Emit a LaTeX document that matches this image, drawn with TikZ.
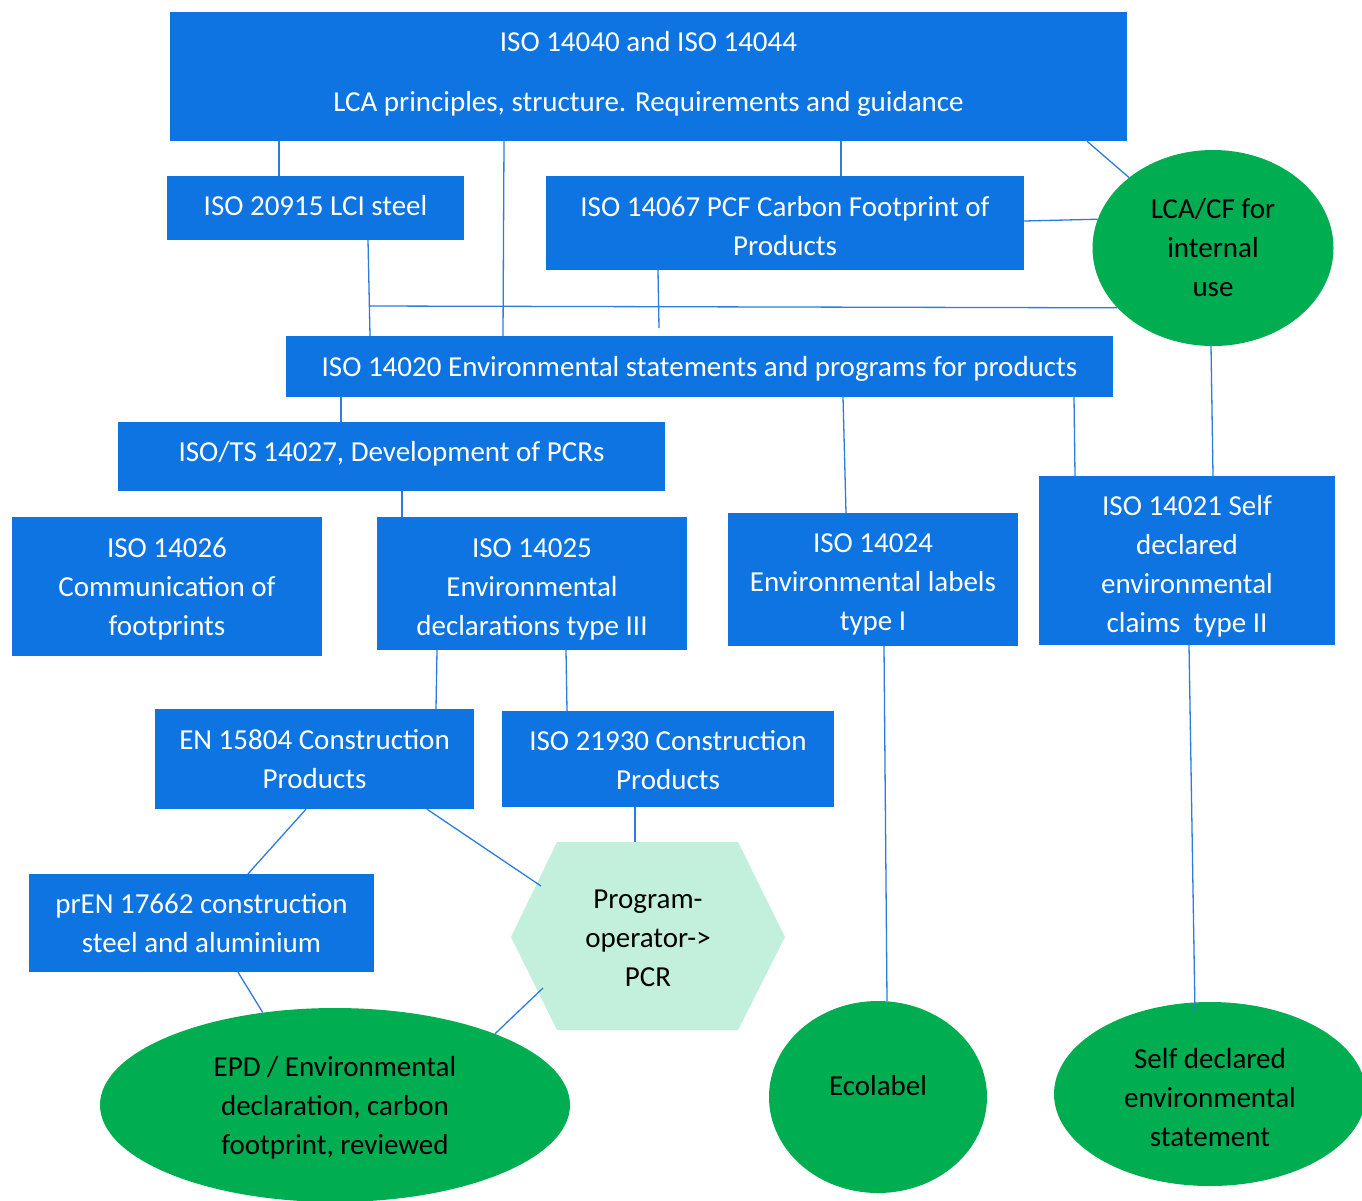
\documentclass[tikz,border=0pt]{standalone}
\usepackage{fontspec}
\setmainfont{Carlito}
\usetikzlibrary{shapes.geometric}
\definecolor{boxblue}{RGB}{14,116,226}
\definecolor{ovalgreen}{RGB}{0,173,80}
\definecolor{mint}{RGB}{195,240,221}
\definecolor{lineblue}{RGB}{46,124,220}
\begin{document}
\begin{tikzpicture}[x=1pt,y=-1pt,
 every node/.style={font=\fontsize{29}{39}\selectfont, inner sep=0pt, align=center},
 bluebox/.style={rectangle, fill=boxblue},
 greenoval/.style={ellipse, fill=ovalgreen},
 wlbl/.style={text=white},
 blbl/.style={text=black},
 conn/.style={draw=lineblue, line width=1.3pt}]
\useasboundingbox (0,0) rectangle (1362,1200);
\fill[white] (0,0) rectangle (1362,1200);

% boxes
\node[bluebox, minimum width=957pt, minimum height=129pt] (top) at (648.5,76.5) {};
\node[bluebox, minimum width=297pt, minimum height=64pt] (b20915) at (315.5,208) {};
\node[bluebox, minimum width=478pt, minimum height=94pt] (b14067) at (785,223) {};
\node[greenoval, minimum width=241pt, minimum height=196pt] (lca) at (1213,248) {};
\node[bluebox, minimum width=827pt, minimum height=61pt] (b14020) at (699.5,366.5) {};
\node[bluebox, minimum width=547pt, minimum height=69pt] (b14027) at (391.5,456.5) {};
\node[bluebox, minimum width=310pt, minimum height=139pt] (b14026) at (167,586.5) {};
\node[bluebox, minimum width=310pt, minimum height=133pt] (b14025) at (532,583.5) {};
\node[bluebox, minimum width=290pt, minimum height=133pt] (b14024) at (873,579.5) {};
\node[bluebox, minimum width=296pt, minimum height=169pt] (b14021) at (1187,560.5) {};
\node[bluebox, minimum width=319pt, minimum height=100pt] (en15804) at (314.5,759) {};
\node[bluebox, minimum width=332pt, minimum height=96pt] (iso21930) at (668,759) {};
\node[bluebox, minimum width=345pt, minimum height=98pt] (pren) at (201.5,923) {};
\fill[mint] (557,842) -- (738,842) -- (785,937) -- (738,1030) -- (557,1030) -- (511,937) -- cycle;
\node[greenoval, minimum width=470pt, minimum height=194pt] (epd) at (335,1105) {};
\node[greenoval, minimum width=218pt, minimum height=192pt] (eco) at (878,1097) {};
\node[greenoval, minimum width=312pt, minimum height=184pt] (selfd) at (1210,1094) {};

% texts
\node[wlbl] (top-t) at (648.5,74) {ISO 14040 and ISO 14044\\[21pt]LCA principles, structure. Requirements and guidance};
\node[wlbl] (b20915-t) at (315.5,206) {ISO 20915 LCI steel};
\node[wlbl] (b14067-t) at (785,226) {ISO 14067 PCF Carbon Footprint of\\Products};
\node[blbl] (lca-t) at (1213,248) {LCA/CF for\\internal\\use};
\node[wlbl] (b14020-t) at (699.5,368.5) {ISO 14020 Environmental statements and programs for products};
\node[wlbl] (b14027-t) at (391.5,453.5) {ISO/TS 14027, Development of PCRs};
\node[wlbl] (b14026-t) at (167,589) {ISO 14026\\Communication of\\footprints};
\node[wlbl] (b14025-t) at (532,589.5) {ISO 14025\\Environmental\\declarations type III};
\node[wlbl] (b14024-t) at (873,584.5) {ISO 14024\\Environmental labels\\type I};
\node[wlbl] (b14021-t) at (1187,566.5) {ISO 14021 Self\\declared\\environmental\\claims~ type II};
\node[wlbl] (en15804-t) at (314.5,759) {EN 15804 Construction\\Products};
\node[wlbl] (iso21930-t) at (668,760) {ISO 21930 Construction\\Products};
\node[wlbl] (pren-t) at (201.5,923) {prEN 17662 construction\\steel and aluminium};
\node[blbl] (hex) at (648,938) {Program-\\operator->\\PCR};
\node[blbl] (epd-t) at (335,1108) {EPD / Environmental\\declaration, carbon\\footprint, reviewed};
\node[blbl] (eco-t) at (878,1086) {Ecolabel};
\node[blbl] (selfd-t) at (1210,1098) {Self declared\\environmental\\statement};

% connector end points
\coordinate (hj) at (369,306);
\coordinate (c14067end) at (659,328);
\coordinate (hexT) at (635,842);
\coordinate (hexA) at (541,886);
\coordinate (hexB) at (543,988);
\coordinate (sdend) at (1195,1012);

\draw[conn] (top.south -| 279,0) -- (b20915.north -| 279,0);
\draw[conn] (top.south -| 504,0) -- (b14020.north -| 503,0);
\draw[conn] (top.south -| 841,0) -- (b14067.north -| 841,0);
\draw[conn] (top.south -| 1087,0) -- (lca.140.5);
\draw[conn] (b14067.east |- 0,221) -- (lca.166.6);
\draw[conn] (b20915.south -| 368,0) -- (b14020.north -| 370,0);
\draw[conn] (b14067.south -| 658,0) -- (c14067end);
\draw[conn] (hj) -- (lca.212.4);
\draw[conn] (b14020.south -| 341,0) -- (b14027.north -| 341,0);
\draw[conn] (b14020.south -| 843,0) -- (b14024.north -| 846,0);
\draw[conn] (b14020.south -| 1074,0) -- (b14021.north -| 1075,0);
\draw[conn] (lca.south -| 1211,0) -- (b14021.north -| 1213,0);
\draw[conn] (b14027.south -| 402,0) -- (b14025.north -| 402,0);
\draw[conn] (b14025.south -| 437,0) -- (en15804.north -| 436,0);
\draw[conn] (b14025.south -| 566,0) -- (iso21930.north -| 567,0);
\draw[conn] (en15804.south -| 306,0) -- (pren.north -| 248,0);
\draw[conn] (en15804.south -| 427,0) -- (hexA);
\draw[conn] (iso21930.south -| 635,0) -- (hexT);
\draw[conn] (pren.south -| 238,0) -- (epd.128);
\draw[conn] (hexB) -- (epd.24);
\draw[conn] (b14024.south -| 884,0) -- (eco.north -| 887,0);
\draw[conn] (b14021.south -| 1189,0) -- (sdend);
\end{tikzpicture}
\end{document}
